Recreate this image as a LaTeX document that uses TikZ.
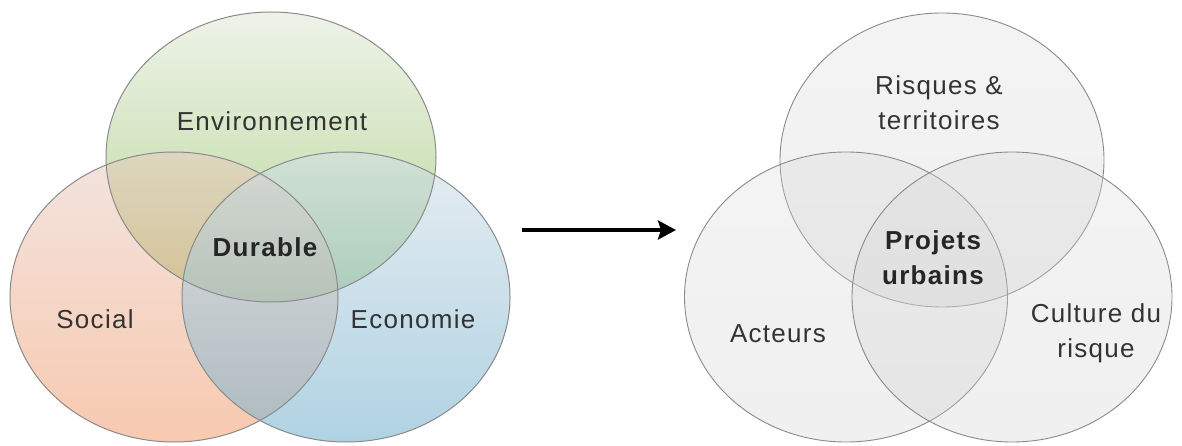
\documentclass[tikz,border=0pt]{standalone}
\usepackage{fontspec}
\setmainfont{Liberation Sans}[LetterSpace=5]
\usetikzlibrary{arrows.meta,shapes.geometric}
\definecolor{txt}{HTML}{333333}
\definecolor{edge}{HTML}{8A8A8A}
\definecolor{socT}{RGB}{231,201,191}
\definecolor{socB}{RGB}{241,148,96}
\definecolor{ecoT}{RGB}{210,222,231}
\definecolor{ecoB}{RGB}{110,174,204}
\definecolor{envT}{HTML}{EEF3E8}
\definecolor{envB}{RGB}{184,214,152}
\begin{document}
\begin{tikzpicture}[x=1pt,y=-1pt,
  vennfill/.style={ellipse,inner sep=0pt,minimum width=328pt,minimum height=290pt},
  ring/.style={draw=edge,line width=1pt},
  grayvenn/.style={ellipse,draw=edge,line width=0.9pt,inner sep=0pt,fill opacity=0.3,top color=black!15,bottom color=black!20},
  lbl/.style={text=txt,font=\fontsize{26}{35}\selectfont,align=center,inner sep=0pt},
  blbl/.style={lbl,font=\fontsize{26}{35}\selectfont\bfseries,text=black!85},
  conn/.style={line width=3.2pt,-{Stealth[length=18pt,width=19pt,inset=3pt]}}
]
\useasboundingbox (0,0) rectangle (1182,446);
% left Venn
\node[vennfill,minimum width=330pt,top color=envT,bottom color=envB] (env) at (271,157) {};
\node[vennfill,fill opacity=0.5,top color=socT,bottom color=socB] (social) at (174,297) {};
\node[vennfill,fill opacity=0.55,top color=ecoT,bottom color=ecoB] (eco) at (346,297) {};
\draw[ring] (env.center) ellipse [x radius=165pt,y radius=145pt];
\draw[ring] (social.center) ellipse [x radius=164pt,y radius=145pt];
\draw[ring] (eco.center) ellipse [x radius=164pt,y radius=145pt];
\node[lbl] (tenv) at (272,121) {Environnement};
\node[blbl] (tdur) at (265,247) {Durable};
\node[lbl] (tsoc) at (95,319) {Social};
\node[lbl] (teco) at (413,319) {Economie};
% arrow
\coordinate (as) at (522,230);
\coordinate (ae) at (676,230);
\draw[conn] (as) -- (ae);
% right Venn
\node[grayvenn,minimum width=324pt,minimum height=294pt] (risk) at (942,160) {};
\node[grayvenn,minimum width=323pt,minimum height=290pt] (act) at (846,297) {};
\node[grayvenn,minimum width=320pt,minimum height=290pt] (cult) at (1012,297) {};
\node[lbl] (trisk) at (939,103) {Risques \&\\territoires};
\node[blbl] (tproj) at (933,258) {Projets\\urbains};
\node[lbl] (tact) at (778,334) {Acteurs};
\node[lbl] (tcult) at (1096,333) {Culture du\\risque};
\end{tikzpicture}
\end{document}
